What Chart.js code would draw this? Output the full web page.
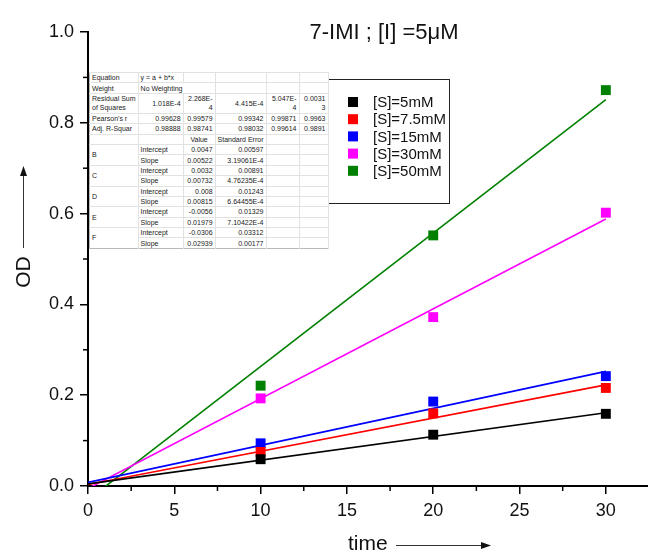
<!DOCTYPE html>
<html>
<head>
<meta charset="utf-8">
<script src="https://cdn.jsdelivr.net/npm/chart.js@4.4.1/dist/chart.umd.min.js"></script>
<style>
  body { margin: 0; background: #fff; }
  #wrap { position: relative; width: 648px; height: 552px; overflow: hidden; }
  #fit-table {
    position: absolute; left: 89px; top: 72px;
    border-collapse: collapse; table-layout: fixed;
    font-family: "Liberation Sans", Arial, sans-serif; font-size: 7px; line-height: 9px;
    background: #fff; border: 1px solid #b8b8b8; color: #222;
  }
  #fit-table td {
    border-top: 1px solid #e2e2e2; border-right: 1px solid #e2e2e2;
    padding: 0 2px; height: 9.4px; vertical-align: middle;
    white-space: normal; word-break: break-all; overflow: hidden;
  }
  #fit-table td.num { text-align: right; }
  #fit-table td.lbl { white-space: nowrap; word-break: normal; overflow: visible; }
</style>
</head>
<body>
<div id="wrap">
  <canvas id="chart" width="656" height="552"></canvas>
  <table id="fit-table"></table>
</div>
<script>
// Dados
const times = [10, 20, 30];
const seriesNames = ['[S]=5mM', '[S]=7.5mM', '[S]=15mM', '[S]=30mM', '[S]=50mM'];
const seriesColors = ['#000000', '#ff0000', '#0000ff', '#ff00ff', '#008000'];
const odS5 = [0.059, 0.113, 0.159];
const odS7 = [0.075, 0.160, 0.216];
const odS15 = [0.094, 0.186, 0.242];
const odS30 = [0.193, 0.372, 0.602];
const odS50 = [0.221, 0.552, 0.872];
const seriesValues = [odS5, odS7, odS15, odS30, odS50];

// Parâmetros do ajuste linear (tabela)
const fitLabels = ['B', 'C', 'D', 'E', 'F'];
const fitIntercept = [0.0047, 0.0032, 0.008, -0.0056, -0.0306];
const fitInterceptErr = ['0.00597', '0.00891', '0.01243', '0.01329', '0.03312'];
const fitSlope = [0.00522, 0.00732, 0.00815, 0.01979, 0.02939];
const fitSlopeErr = ['3.19061E-4', '4.76235E-4', '6.64455E-4', '7.10422E-4', '0.00177'];
const residualSS = ['1.018E-4', '2.268E-4', '4.415E-4', '5.047E-4', '0.00313'];
const pearsonR = ['0.99628', '0.99579', '0.99342', '0.99871', '0.9963'];
const adjRSquare = ['0.98888', '0.98741', '0.98032', '0.99614', '0.9891'];

const xTicks = [0, 5, 10, 15, 20, 25, 30];
const yTicks = [0, 0.2, 0.4, 0.6, 0.8, 1.0];
const fitRange = [0, 30];

// Monta a tabela do ajuste
function montarTabela() {
  const t = document.getElementById('fit-table');
  const widths = [47, 45, 32, 46, 33, 29];
  let html = '<colgroup>' + widths.map(w => `<col style="width:${w}px">`).join('') + '</colgroup>';
  html += '<tr><td>Equation</td><td>y = a + b*x</td><td></td><td></td><td></td><td></td></tr>';
  html += '<tr><td>Weight</td><td colspan="2" style="white-space:nowrap">No Weighting</td><td></td><td></td><td></td></tr>';
  html += '<tr><td class="lbl" style="height:19px">Residual Sum<br>of Squares</td>' + residualSS.map(v => `<td class="num">${v}</td>`).join('') + '</tr>';
  html += '<tr><td>Pearson\'s r</td>' + pearsonR.map(v => `<td class="num">${v}</td>`).join('') + '</tr>';
  html += '<tr><td style="white-space:nowrap">Adj. R-Squar</td>' + adjRSquare.map(v => `<td class="num">${v}</td>`).join('') + '</tr>';
  html += '<tr><td></td><td></td><td style="text-align:center">Value</td><td style="white-space:nowrap;text-align:center">Standard Error</td><td></td><td></td></tr>';
  fitLabels.forEach((lab, i) => {
    html += `<tr><td rowspan="2">${lab}</td><td>Intercept</td><td class="num">${fitIntercept[i]}</td><td class="num">${fitInterceptErr[i]}</td><td></td><td></td></tr>`;
    html += `<tr><td>Slope</td><td class="num">${fitSlope[i]}</td><td class="num">${fitSlopeErr[i]}</td><td></td><td></td></tr>`;
  });
  t.innerHTML = html;
}
montarTabela();

// Ticks menores, títulos dos eixos, título e legenda
const extrasPlugin = {
  id: 'extras',
  afterDraw(chart) {
    const ctx = chart.ctx;
    const xs = chart.scales.x, ys = chart.scales.y;
    ctx.save();
    ctx.strokeStyle = '#000';
    ctx.lineWidth = 1.5;
    for (let v = 2.5; v < 32.5; v += 5) {
      const px = xs.getPixelForValue(v);
      ctx.beginPath(); ctx.moveTo(px, xs.top); ctx.lineTo(px, xs.top + 5); ctx.stroke();
    }
    for (let v = 0.1; v < 1; v += 0.2) {
      const py = ys.getPixelForValue(v);
      ctx.beginPath(); ctx.moveTo(ys.right, py); ctx.lineTo(ys.right - 5, py); ctx.stroke();
    }

    // título
    ctx.fillStyle = '#111';
    ctx.font = '22px "Liberation Sans", Arial, sans-serif';
    ctx.textAlign = 'center';
    ctx.textBaseline = 'alphabetic';
    ctx.fillText('7-IMI ; [I] =5\u03bcM', 384, 39);

    // título do eixo x com seta
    ctx.font = '21px "Liberation Sans", Arial, sans-serif';
    ctx.textAlign = 'left';
    ctx.fillText('time', 348, 550);
    ctx.strokeStyle = '#333'; ctx.fillStyle = '#111'; ctx.lineWidth = 1;
    ctx.beginPath(); ctx.moveTo(396, 545.5); ctx.lineTo(482, 545.5); ctx.stroke();
    ctx.beginPath(); ctx.moveTo(491, 545.5); ctx.lineTo(481, 542); ctx.lineTo(481, 549); ctx.closePath(); ctx.fill();

    // título do eixo y com seta
    ctx.save();
    ctx.translate(30, 272);
    ctx.rotate(-Math.PI / 2);
    ctx.textAlign = 'center';
    ctx.font = '21px "Liberation Sans", Arial, sans-serif';
    ctx.fillText('OD', 0, 0);
    ctx.restore();
    ctx.beginPath(); ctx.moveTo(23.5, 248); ctx.lineTo(23.5, 175); ctx.stroke();
    ctx.beginPath(); ctx.moveTo(23.5, 166); ctx.lineTo(20, 176); ctx.lineTo(27, 176); ctx.closePath(); ctx.fill();

    // legenda
    ctx.fillStyle = '#fff';
    ctx.fillRect(328, 79, 121, 124);
    ctx.strokeStyle = '#222'; ctx.lineWidth = 1;
    ctx.strokeRect(328.5, 79.5, 121, 124);
    ctx.font = '15px "Liberation Sans", Arial, sans-serif';
    ctx.textBaseline = 'middle';
    ctx.textAlign = 'left';
    seriesNames.forEach((nome, i) => {
      const y = 102 + i * 17.2;
      ctx.fillStyle = seriesColors[i];
      ctx.fillRect(348, y - 5, 10, 10);
      ctx.fillStyle = '#111';
      ctx.fillText(nome, 373, y + 1);
    });
    ctx.restore();
  }
};

const datasets = [];
seriesNames.forEach((nome, i) => {
  // reta ajustada
  datasets.push({
    type: 'line',
    label: nome + ' fit',
    data: fitRange.map(x => ({ x, y: fitIntercept[i] + fitSlope[i] * x })),
    borderColor: seriesColors[i],
    borderWidth: 1.6,
    pointRadius: 0,
    fill: false,
    order: 2
  });
  // pontos medidos
  datasets.push({
    type: 'scatter',
    label: nome,
    data: times.map((t, k) => ({ x: t, y: seriesValues[i][k] })),
    backgroundColor: seriesColors[i],
    borderColor: seriesColors[i],
    borderWidth: 0,
    pointStyle: 'rect',
    pointRadius: 7,
    order: 1
  });
});

new Chart(document.getElementById('chart').getContext('2d'), {
  type: 'scatter',
  data: { datasets },
  options: {
    responsive: false,
    animation: false,
    layout: { padding: { top: 32, right: 0, left: 0, bottom: 0 } },
    plugins: { legend: { display: false }, tooltip: { enabled: false } },
    scales: {
      x: {
        type: 'linear', min: 0, max: 32.5,
        afterFit: s => { s.height = 66; },
        afterBuildTicks: s => { s.ticks = xTicks.map(v => ({ value: v })); },
        ticks: { stepSize: 5, includeBounds: false, padding: 6, color: '#111',
                 font: { size: 18, family: '"Liberation Sans", Arial, sans-serif' } },
        grid: { drawOnChartArea: false, drawTicks: true, tickLength: 8, color: '#000', lineWidth: 1.5 },
        border: { color: '#000', width: 2 }
      },
      y: {
        type: 'linear', min: 0, max: 1,
        afterFit: s => { s.width = 88; },
        afterBuildTicks: s => { s.ticks = yTicks.map(v => ({ value: v })); },
        ticks: { padding: 6, color: '#111', callback: v => v.toFixed(1),
                 font: { size: 18, family: '"Liberation Sans", Arial, sans-serif' } },
        grid: { drawOnChartArea: false, drawTicks: true, tickLength: 8, color: '#000', lineWidth: 1.5 },
        border: { color: '#000', width: 2 }
      }
    }
  },
  plugins: [extrasPlugin]
});
</script>
</body>
</html>
